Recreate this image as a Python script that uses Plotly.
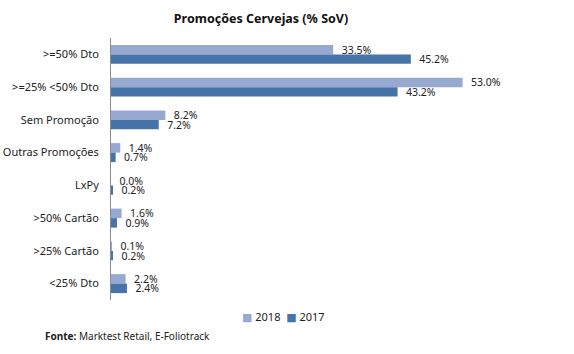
import plotly.graph_objects as go

categories = [">=50% Dto", ">=25% <50% Dto", "Sem Promoção", "Outras Promoções",
              "LxPy", ">50% Cartão", ">25% Cartão", "<25% Dto"]
values_2018 = [33.5, 53.0, 8.2, 1.4, 0.0, 1.6, 0.1, 2.2]
values_2017 = [45.2, 43.2, 7.2, 0.7, 0.2, 0.9, 0.2, 2.4]
series_names = ["2018", "2017"]
series_colors = ["#97A9D1", "#4674A8"]

W, H = 574, 354
FONT = "'Noto Sans', 'DejaVu Sans', sans-serif"
L, R, T, B = 111, 65, 38, 54

fig = go.Figure()
for name, vals, col in zip(series_names, [values_2018, values_2017], series_colors):
    fig.add_trace(go.Bar(
        y=categories, x=vals, name=name, orientation="h",
        marker=dict(color=col, line=dict(width=0)),
        text=[f"{v:.1f}%" for v in vals], textposition="outside",
        texttemplate="  %{text}", cliponaxis=False, constraintext="none",
        textfont=dict(size=10.5, color="#222222", family=FONT),
    ))

fig.update_layout(
    width=W, height=H,
    margin=dict(l=L, r=R, t=T, b=B, autoexpand=False),
    paper_bgcolor="white", plot_bgcolor="white",
    barmode="group", bargap=0.42, bargroupgap=0.0,
    font=dict(family=FONT, size=11, color="#222222"),
    title=dict(text="<b>Promoções Cervejas (% SoV)</b>", x=261 / W, xref="container",
               xanchor="center", y=1 - 19 / H, yref="container", yanchor="middle",
               font=dict(size=12.5, color="#111111", family=FONT)),
    xaxis=dict(range=[0, 60], visible=False, showgrid=False, zeroline=False, fixedrange=True),
    yaxis=dict(autorange="reversed", showline=True, linecolor="#8C8C8C", linewidth=1,
               showgrid=False, ticks="", ticklabelstandoff=9,
               tickfont=dict(size=11, color="#222222", family=FONT)),
    showlegend=False,
)

# legend (as in the reference: small squares followed by series name)
legend_html = "  ".join(
    f"<span style='color:{c}'>■</span> {n}" for n, c in zip(series_names, series_colors)
)
fig.add_annotation(
    text=legend_html, xref="paper", yref="paper",
    x=(283 - L) / (W - L - R), xanchor="center", y=-(316 - (H - B)) / (H - T - B),
    yanchor="middle", showarrow=False,
    font=dict(size=11, color="#222222", family=FONT),
)

fig.add_annotation(
    text="<b>Fonte:</b> Marktest Retail, E-Foliotrack", xref="paper", yref="paper",
    x=(43 - L) / (W - L - R), xanchor="left", y=-(336 - (H - B)) / (H - T - B),
    yanchor="middle", showarrow=False,
    font=dict(size=10, color="#222222", family=FONT),
)

fig.write_html("out.html")
